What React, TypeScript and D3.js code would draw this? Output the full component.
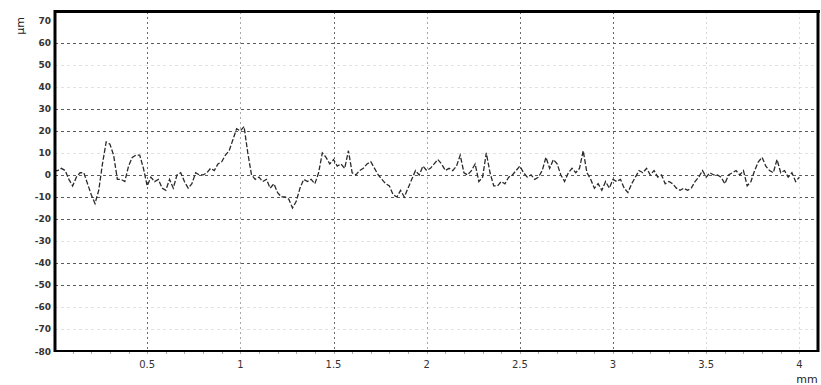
import React from "react";
import * as d3 from "d3";

const STEP_MM = 0.02;
const profileValues: number[] = [
  2, 2, 3, 2, -2, -5, -1, 1, 1, -4,
  -9, -13, -7, 5, 15, 14, 9, -2, -2, -3,
  4, 8, 9, 9, 3, -5, -1, -3, -2, -6,
  -7, -2, -6, 0, 1, -3, -6, -4, 1, 0,
  0, 1, 3, 2, 5, 6, 9, 11, 16, 21,
  20, 22, 10, 0, -2, -1, -3, -2, -6, -4,
  -8, -10, -10, -11, -15, -12, -6, -2, -3, -2,
  -4, 1, 10, 8, 5, 7, 4, 5, 3, 11,
  1, 0, 2, 3, 5, 6, 3, 0, -2, -4,
  -5, -9, -10, -7, -10, -6, -2, 2, 0, 4,
  2, 3, 5, 7, 5, 2, 3, 2, 4, 9,
  1, 0, 2, 5, -3, -1, 10, 1, -5, -5,
  -3, -4, -1, 0, 2, 4, 1, -1, 0, -2,
  -1, 2, 8, 3, 7, 5, 0, -3, 1, 3,
  1, 3, 11, 1, -2, -6, -4, -7, -3, -6,
  -2, -3, -2, -6, -8, -4, -1, 2, 1, 3,
  0, 2, -1, 0, -4, -3, -4, -6, -7, -6,
  -7, -6, -3, -1, 2, -1, 1, 0, 0, -1,
  -4, 0, 1, 2, 0, 2, -5, -3, 2, 6,
  8, 4, 2, 1, 7, 1, 2, -1, 1, -3,
  -1,
];

const yTicks = [70, 60, 50, 40, 30, 20, 10, 0, -10, -20, -30, -40, -50, -60, -70, -80];
const yDarkGrid = [60, 30, 20, 0, -10, -20, -40, -50];
const xTicks = [0.5, 1, 1.5, 2, 2.5, 3, 3.5, 4];
const xTickLabels = ["0.5", "1", "1.5", "2", "2.5", "3", "3.5", "4"];
const xDarkGrid = [0.5, 1.5, 2.5, 3];
const xMidGrid = [1, 2];

const W = 821;
const H = 385;
const L = 55;
const T = 12;
const R = 818;
const B = 351;

export default function App() {
  const x = d3.scaleLinear().domain([0, 4.1]).range([54, 818]);
  const y = d3.scaleLinear().domain([-80, 74.5]).range([351, 11]);
  const pts: [number, number][] = profileValues.map((v, i) => [i * STEP_MM, v]);
  const line = d3
    .line<[number, number]>()
    .x((d) => x(d[0]))
    .y((d) => y(d[1]));
  const minor = d3.range(1, 41).map((i) => i / 10);
  const font = "'DejaVu Sans', Arial, sans-serif";

  return (
    <svg
      width={W}
      height={H}
      style={{ position: "absolute", left: 0, top: 0, background: "#fff" }}
    >
      <rect x={0} y={0} width={W} height={H} fill="#fff" />
      {yTicks
        .filter((t) => t !== -80 && t !== 70)
        .map((t) => {
          const dark = yDarkGrid.includes(t);
          return (
            <line
              key={"hy" + t}
              x1={L}
              x2={R}
              y1={Math.round(y(t)) + 0.5}
              y2={Math.round(y(t)) + 0.5}
              stroke={dark ? "#5a5a5a" : "#e2e2e2"}
              strokeWidth={1}
              strokeDasharray="3,3"
            />
          );
        })}
      {xTicks.map((t) => {
        const dark = xDarkGrid.includes(t);
        const mid = xMidGrid.includes(t);
        return (
          <line
            key={"vx" + t}
            x1={Math.round(x(t)) + 0.5}
            x2={Math.round(x(t)) + 0.5}
            y1={T}
            y2={B}
            stroke={dark ? "#6a6a6a" : mid ? "#a8a8a8" : "#dcdcdc"}
            strokeWidth={1}
            strokeDasharray="2,3"
          />
        );
      })}
      <path
        d={line(pts) || ""}
        fill="none"
        stroke="#2a2a2a"
        strokeWidth={1.3}
        strokeDasharray="5,2"
      />
      {minor.map((t) => (
        <line
          key={"mx" + t}
          x1={Math.round(x(t)) + 0.5}
          x2={Math.round(x(t)) + 0.5}
          y1={B + 1}
          y2={B + 3}
          stroke="#aaa"
          strokeWidth={1}
        />
      ))}
      <line x1={L} x2={L} y1={T - 2} y2={B + 1} stroke="#000" strokeWidth={3} />
      <line x1={L - 1} x2={R + 2} y1={T - 0.5} y2={T - 0.5} stroke="#000" strokeWidth={3} />
      <line x1={R} x2={R} y1={T - 2} y2={B + 1} stroke="#000" strokeWidth={3} />
      <line x1={L} x2={R + 1} y1={B} y2={B} stroke="#000" strokeWidth={2} />
      {yTicks.map((t) => (
        <text
          key={"ly" + t}
          x={51}
          y={y(t) + 3.5}
          textAnchor="end"
          fontFamily={font}
          fontSize={9}
          fontWeight="bold"
          fill="#333"
        >
          {t}
        </text>
      ))}
      {xTicks.map((t, i) => (
        <text
          key={"lx" + t}
          x={x(t)}
          y={368}
          textAnchor="middle"
          fontFamily={font}
          fontSize={10}
          fill="#333"
        >
          {xTickLabels[i]}
        </text>
      ))}
      <text
        x={807}
        y={383}
        textAnchor="middle"
        fontFamily={font}
        fontSize={11}
        fill="#222"
      >
        mm
      </text>
      <text
        transform="translate(24,26) rotate(-90)"
        textAnchor="middle"
        fontFamily={font}
        fontSize={11}
        fill="#222"
      >
        µm
      </text>
    </svg>
  );
}
